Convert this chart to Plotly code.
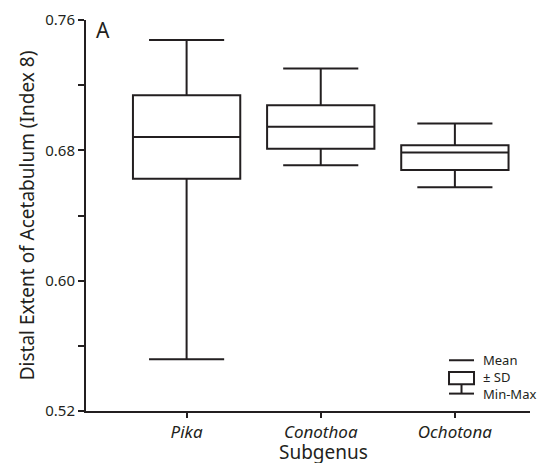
import plotly.graph_objects as go

subgenus = ["Pika", "Conothoa", "Ochotona"]
mean_vals = [0.6882, 0.6944, 0.6786]
sd_low = [0.6626, 0.6810, 0.6680]
sd_high = [0.7138, 0.7077, 0.6831]
min_vals = [0.5518, 0.6708, 0.6574]
max_vals = [0.7477, 0.7303, 0.6964]

INK = "#231f20"
FONT = "Noto Sans"

fig = go.Figure()
fig.add_trace(go.Box(
    x=subgenus,
    q1=sd_low, median=mean_vals, q3=sd_high,
    lowerfence=min_vals, upperfence=max_vals,
    width=0.8, whiskerwidth=0.7,
    line=dict(color=INK, width=2),
    fillcolor="white",
    boxpoints=False,
    showlegend=False,
    hoverinfo="skip",
))

fig.update_layout(
    width=543, height=463,
    margin=dict(l=86, r=13, t=20, b=52),
    plot_bgcolor="white", paper_bgcolor="white",
    font=dict(family=FONT, color=INK),
    showlegend=False,
)

fig.update_xaxes(
    type="category", range=[-0.75, 2.56], automargin=False,
    showline=True, linecolor=INK, linewidth=2,
    ticks="outside", ticklen=5, tickwidth=2, tickcolor=INK,
    tickfont=dict(family=FONT, size=17, style="italic"),
    showgrid=False, zeroline=False,
)
fig.update_yaxes(
    range=[0.52, 0.76], dtick=0.08, tick0=0.52, tickformat=".2f", automargin=False,
    showline=True, linecolor=INK, linewidth=2,
    ticks="outside", ticklen=6, tickwidth=2, tickcolor=INK,
    tickfont=dict(family=FONT, size=15),
    minor=dict(dtick=0.04, tick0=0.52, ticks="outside", ticklen=6, tickwidth=2, tickcolor=INK, showgrid=False),
    title=dict(text="Distal Extent of Acetabulum (Index 8)", font=dict(family=FONT, size=19), standoff=6),
    showgrid=False, zeroline=False,
)

# x-axis title
fig.add_annotation(text="Subgenus", xref="paper", yref="paper", x=0.535, y=-0.1436,
                   xanchor="center", yanchor="bottom", showarrow=False,
                   font=dict(family=FONT, size=19, color=INK))

# panel label
fig.add_annotation(text="A", xref="paper", yref="paper", x=0.018, y=1.015,
                   xanchor="left", yanchor="top", showarrow=False,
                   font=dict(family=FONT, size=21, color=INK))

# key
lx0, lx1 = 0.8176, 0.8739
lxm = (lx0 + lx1) / 2
shapes = [
    dict(type="line", xref="paper", yref="paper", x0=lx0, x1=lx1, y0=0.1298, y1=0.1298),
    dict(type="rect", xref="paper", yref="paper", x0=lx0, x1=lx1, y0=0.0683, y1=0.0998),
    dict(type="line", xref="paper", yref="paper", x0=lxm, x1=lxm, y0=0.0445, y1=0.0683),
    dict(type="line", xref="paper", yref="paper", x0=lx0, x1=lx1, y0=0.0445, y1=0.0445),
]
for s in shapes:
    s["line"] = dict(color=INK, width=2)
    fig.add_shape(**s)

fig.add_annotation(text="Mean<br>± SD<br>Min-Max", xref="paper", yref="paper", x=0.889, y=0.0864,
                   xanchor="left", yanchor="middle", showarrow=False, align="left",
                   font=dict(family=FONT, size=13, color=INK))

fig.write_html("out.html")
